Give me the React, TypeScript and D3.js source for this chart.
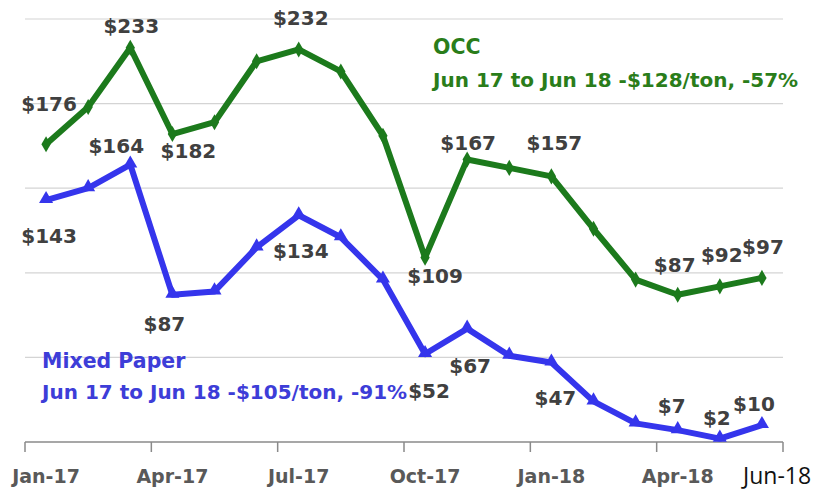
import React from 'react';
import * as d3 from 'd3';

const months = [
  'Jan-17', 'Feb-17', 'Mar-17', 'Apr-17', 'May-17', 'Jun-17', 'Jul-17', 'Aug-17', 'Sep-17',
  'Oct-17', 'Nov-17', 'Dec-17', 'Jan-18', 'Feb-18', 'Mar-18', 'Apr-18', 'May-18', 'Jun-18'
];
const occ = [176, 198, 233, 182, 189, 225, 232, 219, 181, 109, 167, 162, 157, 126, 96, 87, 92, 97];
const mixedPaper = [143, 150, 164, 87, 89, 115, 134, 121, 96, 52, 67, 51, 47, 24, 11, 7, 2, 10];
const tickLabels = ['Jan-17', 'Apr-17', 'Jul-17', 'Oct-17', 'Jan-18', 'Apr-18'];
const yTicks = [0, 50, 100, 150, 200, 250];

// which points get a value label
const occLabelIdx = [0, 2, 3, 6, 9, 10, 12, 15, 16, 17];
const mixedLabelIdx = [0, 2, 3, 6, 9, 10, 12, 15, 16, 17];

// label offsets from the point (hand placed, like the original)
const occOffsets: [number, number][] = [[3, -33], [1, -15], [16, 24], [2, -24], [10, 25], [1, -9], [3, -26], [-3, -23], [2, -24], [1, -24]];
const mixedOffsets: [number, number][] = [[3, 43], [-14, -12], [-8, 36], [2, 43], [4, 44], [3, 44], [4, 43], [-6, -17], [-3, -14], [-8, -14]];

const GREEN = '#1c7a1c';
const BLUE = '#3535ec';
const LABEL = '#404040';
const FONT = '"DejaVu Sans", sans-serif';

const App = () => {
  const width = 817;
  const height = 491;
  const left = 25, right = 783, top = 19, bottom = 442;

  const x = d3.scaleBand<string>().domain(months).range([left, right]).padding(0);
  const cx = (i: number) => (x(months[i]) as number) + x.bandwidth() / 2;
  const y = d3.scaleLinear().domain([0, 250]).range([bottom, top]);

  const line = d3.line<number>().x((_, i) => cx(i)).y(d => y(d));
  const diamond = d3.symbol().type(d3.symbolDiamond).size(75)() as string;
  const triangle = d3.symbol().type(d3.symbolTriangle).size(85)() as string;

  const boundaries = d3.range(0, months.length + 1, 3);

  return (
    <svg width={width} height={height} style={{ position: 'absolute', left: 0, top: 0, background: '#fff' }}>
      {yTicks.filter(t => t > 0).map(t => (
        <line key={t} x1={left} x2={right} y1={y(t)} y2={y(t)} stroke="#d4d4d4" strokeWidth={1.2} />
      ))}
      <line x1={left} x2={right} y1={bottom} y2={bottom} stroke="#8a8a8a" strokeWidth={1.5} />
      {boundaries.map(b => {
        const bx = b < months.length ? (x(months[b]) as number) : right;
        return <line key={b} x1={bx} x2={bx} y1={bottom} y2={bottom + 10} stroke="#8a8a8a" strokeWidth={1.5} />;
      })}
      {tickLabels.map(m => (
        <text key={m} x={cx(months.indexOf(m))} y={483} textAnchor="middle" fontFamily={FONT}
          fontWeight="bold" fontSize={19} fill="#595959">{m}</text>
      ))}
      <text x={743} y={484} fontFamily='"Open Sans", sans-serif' fontSize={23} fill="#111">Jun-18</text>

      <path d={line(occ) as string} fill="none" stroke={GREEN} strokeWidth={6} strokeLinejoin="round" />
      {occ.map((v, i) => (
        <path key={i} d={diamond} transform={`translate(${cx(i)},${y(v)})`} fill={GREEN} />
      ))}
      <path d={line(mixedPaper) as string} fill="none" stroke={BLUE} strokeWidth={6} strokeLinejoin="round" />
      {mixedPaper.map((v, i) => (
        <path key={i} d={triangle} transform={`translate(${cx(i)},${y(v) - 1})`} fill={BLUE} />
      ))}

      {occLabelIdx.map((i, k) => (
        <text key={'o' + i} x={cx(i) + occOffsets[k][0]} y={y(occ[i]) + occOffsets[k][1]} textAnchor="middle"
          fontFamily={FONT} fontWeight="bold" fontSize={20} fill={LABEL}>${occ[i]}</text>
      ))}
      {mixedLabelIdx.map((i, k) => (
        <text key={'m' + i} x={cx(i) + mixedOffsets[k][0]} y={y(mixedPaper[i]) + mixedOffsets[k][1]} textAnchor="middle"
          fontFamily={FONT} fontWeight="bold" fontSize={20} fill={LABEL}>${mixedPaper[i]}</text>
      ))}

      <text x={433} y={54} fontFamily={FONT} fontWeight="bold" fontSize={20.5} fill="#2a7d1a">OCC</text>
      <text x={433} y={87} fontFamily={FONT} fontWeight="bold" fontSize={20} fill="#2a7d1a">
        Jun 17 to Jun 18 -$128/ton, -57%
      </text>
      <text x={42} y={368} fontFamily={FONT} fontWeight="bold" fontSize={20.5} fill="#3d3dd8">Mixed Paper</text>
      <text x={42} y={399} fontFamily={FONT} fontWeight="bold" fontSize={20} fill="#3d3dd8">
        Jun 17 to Jun 18 -$105/ton, -91%
      </text>
    </svg>
  );
};

export default App;
